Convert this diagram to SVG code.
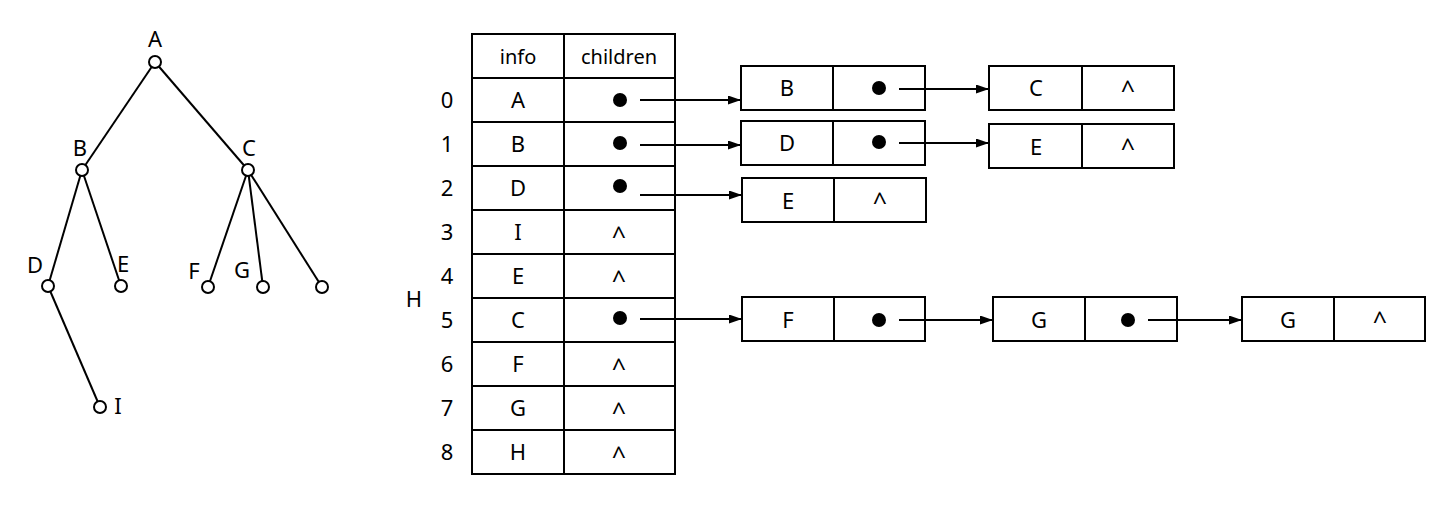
<svg xmlns="http://www.w3.org/2000/svg" width="1435" height="514" viewBox="0 0 1435 514">
<defs>
<style>
text{font-family:"Noto Sans","Liberation Sans",sans-serif;font-size:22px;fill:#000;text-anchor:middle}
.hdr{font-size:20px}
.nil{font-size:25px}
.cell{fill:#fff;stroke:#000;stroke-width:2}
.edge{stroke:#000;stroke-width:2;fill:none}
.tn{fill:#fff;stroke:#000;stroke-width:2}
.dot{fill:#000}
.arr{stroke:#000;stroke-width:2;fill:none;marker-end:url(#ah)}
</style>
<marker id="ah" markerWidth="13" markerHeight="9" refX="12" refY="4.5" orient="auto" markerUnits="userSpaceOnUse">
<path d="M0,0 L13,4.5 L0,9 z" fill="#000"/>
</marker>
</defs>
<rect width="1435" height="514" fill="#fff"/>

<g id="tree-edges">
<line class="edge" x1="155" y1="62" x2="82" y2="170"/>
<line class="edge" x1="155" y1="62" x2="248" y2="170"/>
<line class="edge" x1="82" y1="170" x2="48" y2="286"/>
<line class="edge" x1="82" y1="170" x2="121" y2="286"/>
<line class="edge" x1="248" y1="170" x2="208" y2="287"/>
<line class="edge" x1="248" y1="170" x2="263" y2="287"/>
<line class="edge" x1="248" y1="170" x2="322" y2="287"/>
<line class="edge" x1="48" y1="286" x2="100" y2="407"/>
</g>
<g id="tree-A"><circle class="tn" cx="155" cy="62" r="6"/><text x="155" y="47">A</text></g>
<g id="tree-B"><circle class="tn" cx="82" cy="170" r="6"/><text x="80" y="156">B</text></g>
<g id="tree-C"><circle class="tn" cx="248" cy="170" r="6"/><text x="249" y="156">C</text></g>
<g id="tree-D"><circle class="tn" cx="48" cy="286" r="6"/><text x="35" y="273">D</text></g>
<g id="tree-E"><circle class="tn" cx="121" cy="286" r="6"/><text x="123" y="272">E</text></g>
<g id="tree-F"><circle class="tn" cx="208" cy="287" r="6"/><text x="194" y="279">F</text></g>
<g id="tree-G"><circle class="tn" cx="263" cy="287" r="6"/><text x="242" y="278">G</text></g>
<g id="tree-X"><circle class="tn" cx="322" cy="287" r="6"/></g>
<g id="tree-I"><circle class="tn" cx="100" cy="407" r="6"/><text x="118" y="414">I</text></g>

<g id="table">
<rect class="cell" x="472" y="34" width="92" height="44"/><rect class="cell" x="564" y="34" width="111" height="44"/>
<text class="hdr" x="518" y="64">info</text><text class="hdr" x="619" y="64">children</text>
<rect class="cell" x="472" y="78" width="92" height="44"/><rect class="cell" x="564" y="78" width="111" height="44"/>
<rect class="cell" x="472" y="122" width="92" height="44"/><rect class="cell" x="564" y="122" width="111" height="44"/>
<rect class="cell" x="472" y="166" width="92" height="44"/><rect class="cell" x="564" y="166" width="111" height="44"/>
<rect class="cell" x="472" y="210" width="92" height="44"/><rect class="cell" x="564" y="210" width="111" height="44"/>
<rect class="cell" x="472" y="254" width="92" height="44"/><rect class="cell" x="564" y="254" width="111" height="44"/>
<rect class="cell" x="472" y="298" width="92" height="44"/><rect class="cell" x="564" y="298" width="111" height="44"/>
<rect class="cell" x="472" y="342" width="92" height="44"/><rect class="cell" x="564" y="342" width="111" height="44"/>
<rect class="cell" x="472" y="386" width="92" height="44"/><rect class="cell" x="564" y="386" width="111" height="44"/>
<rect class="cell" x="472" y="430" width="92" height="44"/><rect class="cell" x="564" y="430" width="111" height="44"/>
<text x="518" y="108">A</text><text x="518" y="152">B</text><text x="518" y="196">D</text>
<text x="518" y="240">I</text><text x="518" y="284">E</text><text x="518" y="328">C</text>
<text x="518" y="372">F</text><text x="518" y="416">G</text><text x="518" y="460">H</text>
<circle class="dot" cx="620" cy="100" r="7"/><circle class="dot" cx="620" cy="143" r="7"/>
<circle class="dot" cx="620" cy="186" r="7"/><circle class="dot" cx="620" cy="318" r="7"/>
<text class="nil" x="619" y="245">^</text><text class="nil" x="619" y="289">^</text>
<text class="nil" x="619" y="377">^</text><text class="nil" x="619" y="421">^</text>
<text class="nil" x="619" y="465">^</text>
<text x="447" y="108">0</text><text x="447" y="152">1</text><text x="447" y="196">2</text>
<text x="447" y="240">3</text><text x="447" y="284">4</text><text x="447" y="328">5</text>
<text x="447" y="372">6</text><text x="447" y="416">7</text><text x="447" y="460">8</text>
<text x="414" y="307">H</text>
</g>

<g id="list-0-B"><rect class="cell" x="741" y="66" width="92" height="44"/><rect class="cell" x="833" y="66" width="92" height="44"/><text x="787" y="96">B</text><circle class="dot" cx="879" cy="88" r="7"/></g>
<g id="list-0-C"><rect class="cell" x="989" y="66" width="93" height="44"/><rect class="cell" x="1082" y="66" width="92" height="44"/><text x="1036" y="96">C</text><text class="nil" x="1128" y="99">^</text></g>
<g id="list-1-D"><rect class="cell" x="741" y="121" width="92" height="44"/><rect class="cell" x="833" y="121" width="92" height="44"/><text x="787" y="151">D</text><circle class="dot" cx="879" cy="142" r="7"/></g>
<g id="list-1-E"><rect class="cell" x="989" y="124" width="93" height="44"/><rect class="cell" x="1082" y="124" width="92" height="44"/><text x="1036" y="155">E</text><text class="nil" x="1128" y="157">^</text></g>
<g id="list-2-E"><rect class="cell" x="742" y="178" width="92" height="44"/><rect class="cell" x="834" y="178" width="92" height="44"/><text x="788" y="209">E</text><text class="nil" x="880" y="211">^</text></g>
<g id="list-5-F"><rect class="cell" x="742" y="297" width="92" height="44"/><rect class="cell" x="834" y="297" width="91" height="44"/><text x="788" y="328">F</text><circle class="dot" cx="879" cy="320" r="7"/></g>
<g id="list-5-G1"><rect class="cell" x="993" y="297" width="92" height="44"/><rect class="cell" x="1085" y="297" width="92" height="44"/><text x="1039" y="328">G</text><circle class="dot" cx="1128" cy="320" r="7"/></g>
<g id="list-5-G2"><rect class="cell" x="1242" y="297" width="92" height="44"/><rect class="cell" x="1334" y="297" width="91" height="44"/><text x="1288" y="328">G</text><text class="nil" x="1380" y="330">^</text></g>

<g id="connectors">
<line class="arr" x1="640" y1="100" x2="740" y2="100"/>
<line class="arr" x1="640" y1="145" x2="740" y2="145"/>
<line class="arr" x1="640" y1="195" x2="741" y2="195"/>
<line class="arr" x1="640" y1="319" x2="741" y2="319"/>
<line class="arr" x1="899" y1="89" x2="988" y2="89"/>
<line class="arr" x1="899" y1="143" x2="988" y2="143"/>
<line class="arr" x1="899" y1="320" x2="992" y2="320"/>
<line class="arr" x1="1148" y1="320" x2="1241" y2="320"/>
</g>
</svg>
